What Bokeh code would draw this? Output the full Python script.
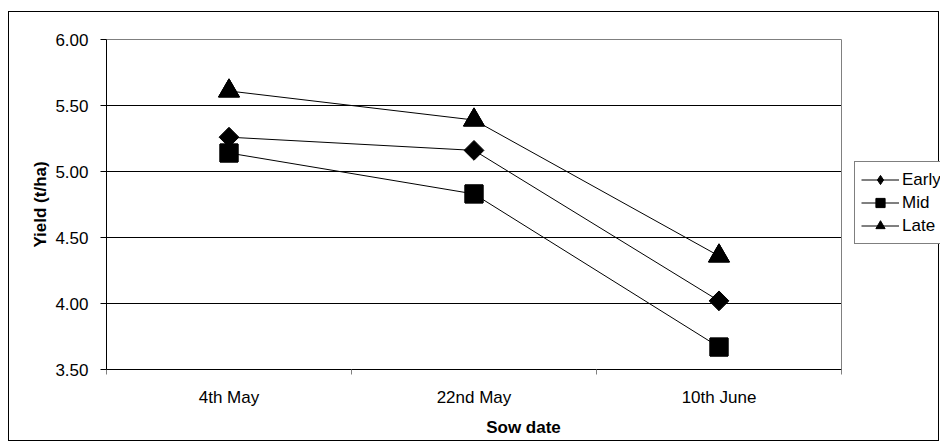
from math import pi
from bokeh.plotting import figure
from bokeh.models import FixedTicker, PrintfTickFormatter, Legend, LegendItem, Range1d
from bokeh.embed import file_html
from bokeh.resources import INLINE

categories = ["4th May", "22nd May", "10th June"]
early = [5.26, 5.16, 4.02]
mid = [5.14, 4.83, 3.67]
late = [5.61, 5.39, 4.36]
y_ticks = [3.5, 4.0, 4.5, 5.0, 5.5, 6.0]

FONT = "Liberation Sans"
FS = "17px"

W, H = 931, 430
LEFT, TOP, BOTTOM = 97, 27, 73
AREA_W = 735            # pixel width of the plotting area (categories part)
FRAME_W = W - LEFT      # frame extends to the right edge so the legend is not clipped
n = len(categories)
x = [i + 0.5 for i in range(n)]

p = figure(width=W, height=H, output_backend="svg", toolbar_location=None,
           x_range=Range1d(0, n * FRAME_W / AREA_W), y_range=Range1d(y_ticks[0], y_ticks[-1]),
           min_border_left=LEFT, min_border_top=TOP, min_border_right=0, min_border_bottom=BOTTOM)
p.styles = {"border": "1px solid black", "margin-top": "11px", "margin-left": "8px"}
p.background_fill_color = "white"
p.border_fill_color = "white"
p.outline_line_color = None
p.xgrid.visible = False
p.ygrid.visible = False

# horizontal gridlines limited to the category area
p.segment(x0=0, x1=n, y0=y_ticks, y1=y_ticks, line_color="black", line_width=1)
# plot-area border (gray)
p.quad(left=0, right=n, bottom=y_ticks[0], top=y_ticks[-1],
       fill_alpha=0, line_color="#808080", line_width=1)

# y axis
ya = p.yaxis[0]
ya.ticker = FixedTicker(ticks=y_ticks)
ya.formatter = PrintfTickFormatter(format="%.2f")
ya.major_tick_out = 6
ya.major_tick_in = 0
ya.minor_tick_line_color = None
ya.axis_line_color = "black"
ya.major_tick_line_color = "black"
ya.major_label_standoff = 12
ya.major_label_text_font = FONT
ya.major_label_text_font_size = FS
ya.major_label_text_color = "black"
ya.axis_label = "Yield (t/ha)"
ya.axis_label_text_font = FONT
ya.axis_label_text_font_size = FS
ya.axis_label_text_font_style = "bold"
ya.axis_label_text_color = "black"
ya.axis_label_standoff = 2

# x axis
xa = p.xaxis[0]
xa.bounds = (0, n)
xa.ticker = FixedTicker(ticks=x, minor_ticks=list(range(n + 1)))
xa.major_label_overrides = {xv: c for xv, c in zip(x, categories)}
xa.major_tick_out = 0
xa.major_tick_in = 0
xa.major_tick_line_color = None
xa.minor_tick_out = 5
xa.minor_tick_in = 0
xa.minor_tick_line_color = "#808080"
xa.axis_line_color = "black"
xa.major_label_standoff = 13
xa.major_label_text_font = FONT
xa.major_label_text_font_size = FS
xa.major_label_text_color = "black"
xa.axis_label = "Sow date"
xa.axis_label_text_font = FONT
xa.axis_label_text_font_size = FS
xa.axis_label_text_font_style = "bold"
xa.axis_label_text_color = "black"
xa.axis_label_standoff = 8

series = [
    ("Early", early, dict(marker="square", angle=pi / 4, size=14), "diamond", 14),
    ("Mid", mid, dict(marker="square", size=18), "square", 18),
    ("Late", late, dict(marker="triangle", size=21), "triangle", 21),
]

items = []
for name, vals, mk, legend_marker, lsize in series:
    ln = p.line(x, vals, line_color="black", line_width=1)
    # marker used for the legend swatch (legend glyphs are drawn unrotated);
    # on the plot it sits hidden under the main marker
    lg = p.scatter(x, vals, marker=legend_marker, size=lsize, fill_color="black", line_color="black")
    p.scatter(x, vals, fill_color="black", line_color="black", **mk)
    items.append(LegendItem(label=name, renderers=[ln, lg]))

legend = Legend(items=items, location=(748, 125))
legend.border_line_color = "black"
legend.border_line_width = 1
legend.background_fill_color = "white"
legend.background_fill_alpha = 1
legend.label_text_font = FONT
legend.label_text_font_size = FS
legend.label_text_color = "black"
legend.glyph_width = 38
legend.glyph_height = 23
legend.label_height = 23
legend.spacing = 0
legend.padding = 6
legend.margin = 0
legend.label_standoff = 3
p.add_layout(legend, "center")

open("out.html", "w").write(file_html(p, INLINE))
